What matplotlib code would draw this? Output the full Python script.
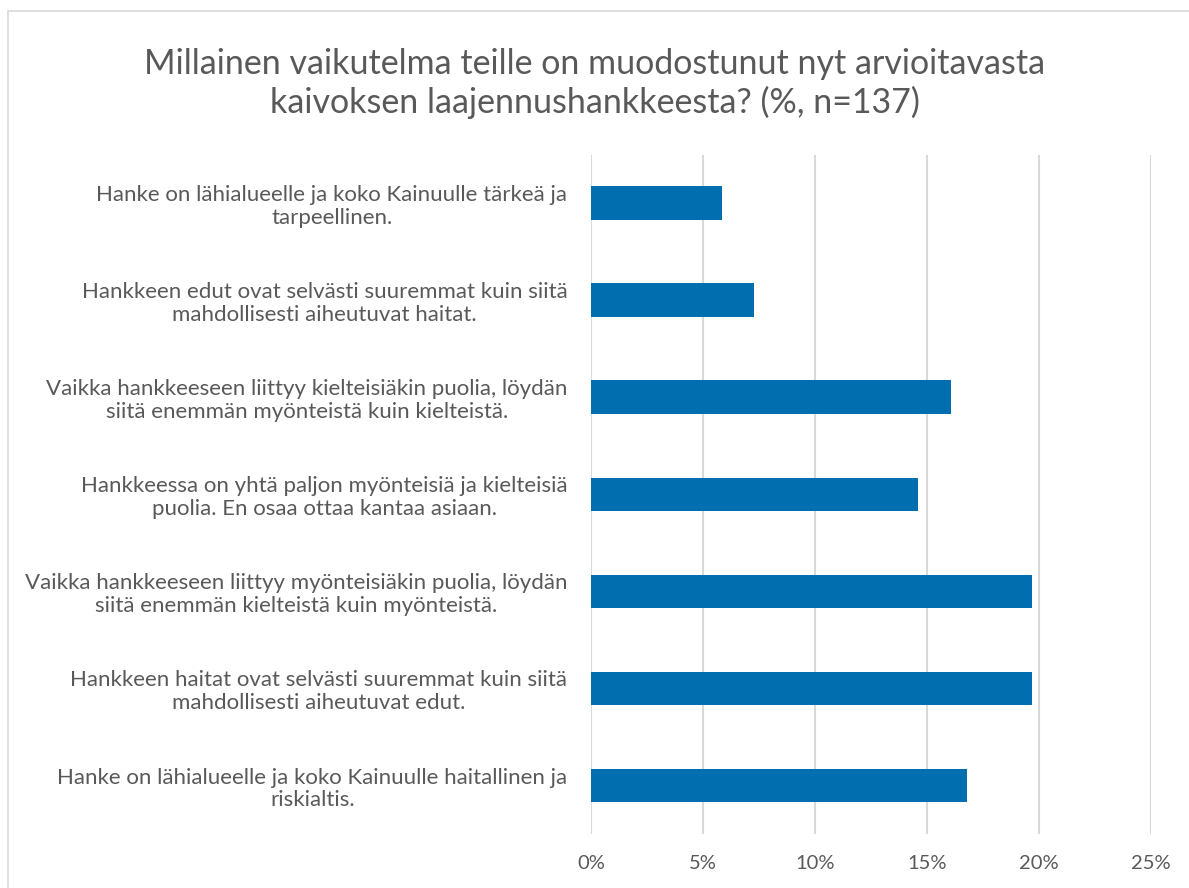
import matplotlib.pyplot as plt
from matplotlib.patches import Rectangle
from matplotlib.ticker import PercentFormatter

plt.rcParams['font.family'] = ['Lato', 'DejaVu Sans']

# answer options, top to bottom as in the chart
labels = [
    "Hanke on lähialueelle ja koko Kainuulle tärkeä ja\ntarpeellinen.",
    "Hankkeen edut ovat selvästi suuremmat kuin siitä\nmahdollisesti aiheutuvat haitat.",
    "Vaikka hankkeeseen liittyy kielteisiäkin puolia, löydän\nsiitä enemmän myönteistä kuin kielteistä.",
    "Hankkeessa on yhtä paljon myönteisiä ja kielteisiä\npuolia. En osaa ottaa kantaa asiaan.",
    "Vaikka hankkeeseen liittyy myönteisiäkin puolia, löydän\nsiitä enemmän kielteistä kuin myönteistä.",
    "Hankkeen haitat ovat selvästi suuremmat kuin siitä\nmahdollisesti aiheutuvat edut.",
    "Hanke on lähialueelle ja koko Kainuulle haitallinen ja\nriskialtis.",
]
# shares in percent (n=137)
values = [5.84, 7.30, 16.06, 14.60, 19.71, 19.71, 16.79]
xticks = [0, 5, 10, 15, 20, 25]

title = ("Millainen vaikutelma teille on muodostunut nyt arvioitavasta\n"
         "kaivoksen laajennushankkeesta? (%, n=137)")

grey = "#595959"

fig = plt.figure(figsize=(11.89, 8.88), dpi=100)
ax = fig.add_axes([0.497, 0.0608, 0.471, 0.7647])

# chart border like the office export
fig.patches.append(Rectangle((8 / 1189, -0.05), 1.1, 1.05 - 11 / 888,
                             transform=fig.transFigure, fill=False,
                             edgecolor="#D9D9D9", linewidth=1.2))

pos = list(range(len(labels)))
ax.barh(pos, values, height=0.35, color="#006EAF", zorder=3)

ax.set_ylim(len(labels) - 0.5, -0.5)
ax.set_yticks(pos)
ax.set_yticklabels(labels, fontsize=16, color=grey, ha="right",
                   multialignment="center", linespacing=1.15)
ax.set_xlim(0, 25)
ax.set_xticks(xticks)
ax.xaxis.set_major_formatter(PercentFormatter(decimals=0))
ax.tick_params(axis="x", labelsize=14.5, labelcolor=grey, length=0, pad=15)
ax.tick_params(axis="y", length=0, pad=17)

ax.grid(axis="x", color="#D9D9D9", linewidth=1.5, zorder=0)
for s in ax.spines.values():
    s.set_visible(False)

fig.text(0.5, 0.946, title, ha="center", va="top", fontsize=24.5,
         color=grey, linespacing=1.2)

fig.savefig("out.png", dpi=100)
